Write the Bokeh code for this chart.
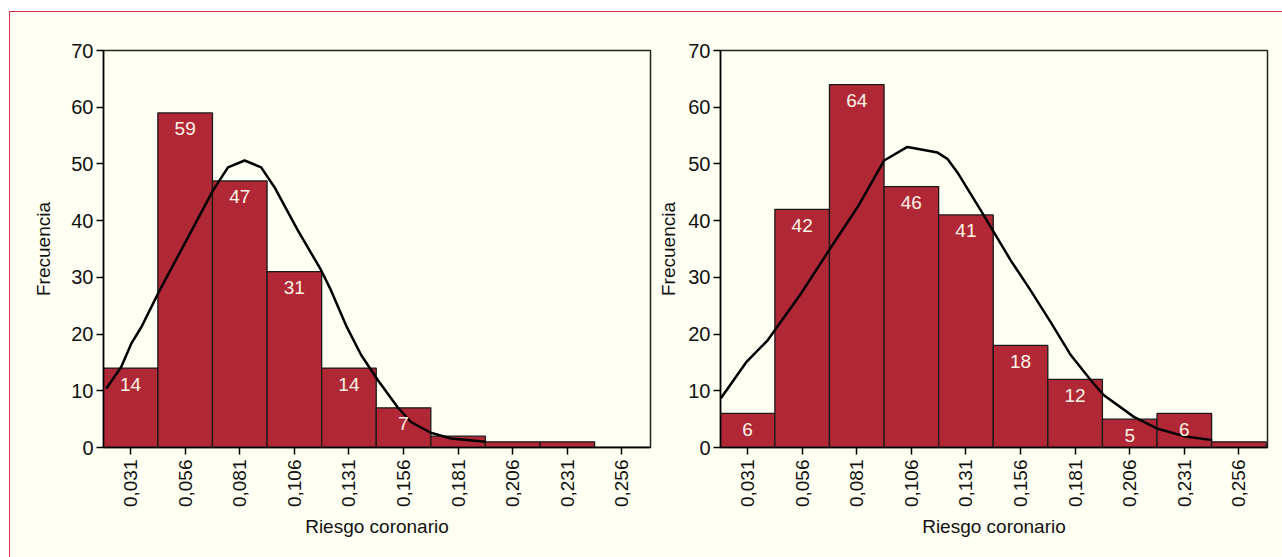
import math
from bokeh.plotting import figure
from bokeh.layouts import row
from bokeh.models import ColumnDataSource, FixedTicker
from bokeh.core.properties import value
from bokeh.embed import file_html
from bokeh.resources import INLINE

# ---- data ----
bin_centers = [0.031, 0.056, 0.081, 0.106, 0.131, 0.156, 0.181, 0.206, 0.231, 0.256]
tick_labels = ["0,031", "0,056", "0,081", "0,106", "0,131", "0,156", "0,181", "0,206", "0,231", "0,256"]

left_counts = [14, 59, 47, 31, 14, 7, 2, 1, 1, 0]
left_labels = ["14", "59", "47", "31", "14", "7", "", "", "", ""]

right_counts = [6, 42, 64, 46, 41, 18, 12, 5, 6, 1]
right_labels = ["6", "42", "64", "46", "41", "18", "12", "5", "6", ""]

left_curve_x = [0.0199, 0.0267, 0.0313, 0.0359, 0.0443, 0.0557, 0.0687, 0.0756, 0.0832,
                0.0908, 0.0969, 0.1076, 0.1182, 0.1228, 0.1297, 0.1366, 0.1442, 0.1533,
                0.1594, 0.1685, 0.1777, 0.1937]
left_curve_y = [10.4, 14.2, 18.3, 21.2, 27.7, 35.9, 45.3, 49.4, 50.6,
                49.4, 45.9, 38.3, 31.3, 27.7, 21.5, 16.3, 11.9, 7.1,
                4.5, 2.6, 1.6, 1.0]

right_curve_x = [0.0188, 0.0303, 0.0402, 0.0554, 0.0692, 0.0814, 0.0935, 0.1042, 0.1180,
                 0.1225, 0.1271, 0.1378, 0.1515, 0.1606, 0.1698, 0.1790, 0.1881, 0.1942,
                 0.2079, 0.2189, 0.2308, 0.2438]
right_curve_y = [8.7, 15.0, 18.9, 27.1, 35.3, 42.4, 50.6, 53.0, 52.0,
                 50.9, 48.5, 41.8, 33.0, 27.7, 22.1, 16.3, 11.9, 9.2,
                 5.4, 3.3, 2.0, 1.3]

x_label = "Riesgo coronario"
y_label = "Frecuencia"

# ---- style ----
FONT = "Liberation Sans"
CREAM = "#FFFFF3"
BAR = "#B02736"
BIN_W = 0.025


def make(counts, labels, cx, cy, width, mb_left, mb_right, ylab_standoff):
    p = figure(width=width, height=545, x_range=(0.0186, 0.2691), y_range=(0, 70),
               output_backend="svg", toolbar_location=None,
               min_border_left=mb_left, min_border_right=mb_right,
               min_border_top=38, min_border_bottom=110)
    p.background_fill_color = CREAM
    p.border_fill_color = CREAM
    p.outline_line_color = "#222222"
    p.outline_line_width = 1.5
    p.xgrid.visible = False
    p.ygrid.visible = False

    src = ColumnDataSource(dict(x=bin_centers, top=counts, label=labels))
    p.vbar(x="x", top="top", bottom=0, width=BIN_W, source=src,
           fill_color=BAR, line_color="#1a1a1a", line_width=1.3)
    p.line(cx, cy, line_color="black", line_width=2.5, line_join="round")
    p.text(x="x", y="top", text="label", source=src, y_offset=16,
           text_align="center", text_baseline="middle", text_color="#FFF4E6",
           text_font=value(FONT), text_font_size="19px")

    p.xaxis.ticker = FixedTicker(ticks=bin_centers)
    p.xaxis.major_label_overrides = {c: t for c, t in zip(bin_centers, tick_labels)}
    p.xaxis.major_label_orientation = math.pi / 2
    p.yaxis.ticker = FixedTicker(ticks=[0, 10, 20, 30, 40, 50, 60, 70])
    for ax in (p.xaxis[0], p.yaxis[0]):
        ax.major_label_text_font = FONT
        ax.axis_label_text_font = FONT
        ax.axis_label_text_font_style = "normal"
        ax.axis_label_text_color = "#111111"
        ax.major_label_text_color = "#111111"
        ax.axis_line_color = "black"
        ax.axis_line_width = 1.5
        ax.major_tick_line_color = "black"
        ax.major_tick_line_width = 1.5
        ax.major_tick_in = 0
        ax.major_tick_out = 7
        ax.minor_tick_line_color = None
    p.xaxis.major_label_text_font_size = "19px"
    p.yaxis.major_label_text_font_size = "20px"
    p.xaxis.axis_label_text_font_size = "19px"
    p.yaxis.axis_label_text_font_size = "19px"
    p.xaxis.major_label_standoff = 5
    p.yaxis.major_label_standoff = 3
    p.xaxis.axis_label_standoff = 6
    p.yaxis.axis_label_standoff = ylab_standoff
    p.xaxis.axis_label = x_label
    p.yaxis.axis_label = y_label
    return p


p1 = make(left_counts, left_labels, left_curve_x, left_curve_y, 645, 93, 5, 14)
p2 = make(right_counts, right_labels, right_curve_x, right_curve_y, 627, 65, 15, 6)

layout = row(p1, p2, margin=(11, 0, 0, 9),
             styles={"border-top": "1px solid #D03050", "border-left": "1px solid #D03050",
                     "background-color": CREAM})

open("out.html", "w").write(file_html(layout, INLINE))
